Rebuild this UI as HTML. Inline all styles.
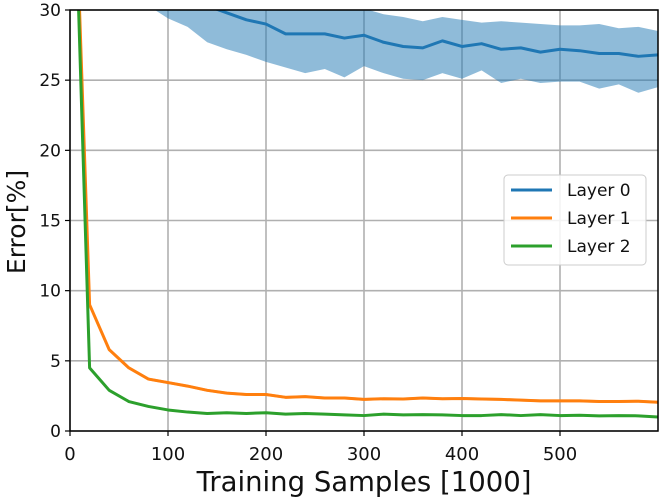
<!DOCTYPE html>
<html><head><meta charset="utf-8"><style>
body{margin:0;background:#fff;}
svg{display:block;font-family:"DejaVu Sans","Liberation Sans",sans-serif;}
</style></head><body>
<svg id="chart" width="661" height="500">
<defs><clipPath id="pa"><rect x="70" y="10" width="588" height="421"/></clipPath></defs>
<g id="grid"></g>
<g id="series" clip-path="url(#pa)"></g>
<g id="axes"></g>
</svg>
<script>
const xs = [0,20,40,60,80,100,120,140,160,180,200,220,240,260,280,300,320,340,360,380,400,420,440,460,480,500,520,540,560,580,600];
const layer0Mean = [45,40,36,34,33,32,31,30.3,29.8,29.3,29.0,28.3,28.3,28.3,28.0,28.2,27.7,27.4,27.3,27.8,27.4,27.6,27.2,27.3,27.0,27.2,27.1,26.9,26.9,26.7,26.8];
const layer0Upper = [48,44,40,38,37,35,34,33.5,33,32.5,32,31.5,31.2,31,30.5,30.1,29.7,29.5,29.2,29.5,29.3,29.1,29.2,29.1,29.0,28.9,28.9,29.0,28.7,28.8,28.5];
const layer0Lower = [42,36,33,31,30.3,29.4,28.8,27.7,27.2,26.8,26.3,25.9,25.5,25.8,25.2,26.0,25.5,25.1,25.0,25.5,25.1,25.7,24.8,25.1,24.8,24.9,24.9,24.4,24.7,24.1,24.5];
const layer1Mean = [50,9.0,5.8,4.5,3.7,3.45,3.2,2.9,2.7,2.6,2.6,2.4,2.45,2.35,2.35,2.25,2.3,2.28,2.35,2.3,2.32,2.28,2.25,2.2,2.15,2.15,2.15,2.1,2.1,2.12,2.05];
const layer2Mean = [50,4.5,2.9,2.1,1.75,1.5,1.35,1.25,1.3,1.25,1.3,1.2,1.25,1.2,1.15,1.1,1.2,1.15,1.17,1.15,1.1,1.1,1.17,1.1,1.17,1.1,1.12,1.08,1.1,1.08,1.0];
const xTicks = [0,100,200,300,400,500];
const yTicks = [0,5,10,15,20,25,30];
const NS='http://www.w3.org/2000/svg';
const X0=70,X1=658,Y0=431,Y1=10;
const sx=v=>X0+(v/600)*(X1-X0);
const sy=v=>Y0-(v/30)*(Y0-Y1);
function mk(tag,attrs,parent){const e=document.createElementNS(NS,tag);for(const k in attrs)e.setAttribute(k,attrs[k]);parent.appendChild(e);return e;}
const grid=document.getElementById('grid'),ser=document.getElementById('series'),ax=document.getElementById('axes');
xTicks.forEach(t=>{
  const g=mk('line',{x1:sx(t),x2:sx(t),y1:Y1,y2:Y0,stroke:'#b0b0b0','stroke-width':1.6},grid);
  
  
  mk('line',{x1:sx(t),x2:sx(t),y1:Y0,y2:Y0+5,stroke:'#000','stroke-width':1.2},ax);
  const l=mk('text',{x:sx(t),y:Y0+29,'font-size':18,'text-anchor':'middle',fill:'#111'},ax);
  l.textContent=t;
  
  
});
yTicks.forEach(t=>{
  const g=mk('line',{x1:X0,x2:X1,y1:sy(t),y2:sy(t),stroke:'#b0b0b0','stroke-width':1.6},grid);
  
  
  mk('line',{x1:X0-5,x2:X0,y1:sy(t),y2:sy(t),stroke:'#000','stroke-width':1.2},ax);
  const l=mk('text',{x:X0-9,y:sy(t)+6,'font-size':17,'text-anchor':'end',fill:'#111'},ax);
  l.textContent=t;
  
  
});
function band(up,lo,color,name){
  let d='M'+xs.map((x,i)=>sx(x)+','+sy(up[i])).join('L');
  d+='L'+xs.map((x,i)=>sx(x)+','+sy(lo[i])).reverse().join('L')+'Z';
  const p=mk('path',{d:d,fill:color,'fill-opacity':0.5},ser);
  
  
}
function line(vals,color,name,off){
  if(off){band(vals.map(v=>v+off),vals.map(v=>v-off),color,name+'-band');}
  const p=mk('polyline',{points:xs.map((x,i)=>sx(x)+','+sy(vals[i])).join(' '),fill:'none',stroke:color,'stroke-width':3,'stroke-linejoin':'round'},ser);
  
  
}
band(layer0Upper,layer0Lower,'#1f77b4','layer0-band');
line(layer0Mean,'#1f77b4','layer0-line');
line(layer1Mean,'#ff7f0e','layer1-line',0.1);
line(layer2Mean,'#2ca02c','layer2-line',0.08);
const fr=mk('rect',{x:X0,y:Y1,width:X1-X0,height:Y0-Y1,fill:'none',stroke:'#000','stroke-width':1.5},ax);


const xl=mk('text',{x:364,y:491,'font-size':27.5,'text-anchor':'middle',fill:'#111'},ax);
xl.textContent='Training Samples [1000]';


const yl=mk('text',{x:0,y:0,'font-size':25,'text-anchor':'middle',fill:'#111',transform:'translate(25,222) rotate(-90)'},ax);
yl.textContent='Error[%]';


const lg=mk('g',{},ax);


mk('rect',{x:504,y:175,width:142,height:90,rx:4,fill:'#fff','fill-opacity':0.85,stroke:'#ccc','stroke-width':1},lg);
[['Layer 0','#1f77b4'],['Layer 1','#ff7f0e'],['Layer 2','#2ca02c']].forEach((e,i)=>{
  const y=190+i*28;
  const en=mk('g',{},lg);
  
  
  mk('line',{x1:511,x2:552,y1:y,y2:y,stroke:e[1],'stroke-width':3},en);
  const t=mk('text',{x:567,y:y+6,'font-size':17,fill:'#111'},en);
  t.textContent=e[0];
});
</script>
</body></html>
